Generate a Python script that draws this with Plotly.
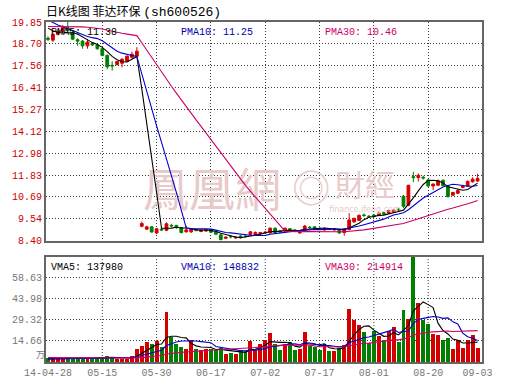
import plotly.graph_objects as go
import pandas as pd

# ---------------- data ----------------
TITLE_CN = "日K线图 菲达环保"
TITLE_CODE = "(sh600526)"
date_labels = ["14-04-28", "05-15", "05-30", "06-17", "07-02", "07-17", "08-01", "08-20", "09-03"]
date_label_index = [0, 11, 22, 33, 44, 55, 66, 77, 87]

opens = [19.00, 18.90, 19.20, 19.35, 19.55, 19.30, 18.92, 18.85, 18.60, 18.75,
         18.65, 18.45, 18.10, 17.58, 17.62, 17.69, 17.79, 18.00, 18.06, 9.15,
         9.00, 9.12, 8.80, 9.00, 8.94, 9.20, 9.20, 9.09, 8.86, 8.86,
         8.96, 8.88, 8.90, 8.98, 8.84, 8.70, 8.52, 8.62, 8.54, 8.64,
         8.64, 8.72, 8.72, 8.76, 8.80, 8.80, 9.05, 8.90, 8.90, 9.02,
         8.96, 8.80, 8.96, 9.10, 9.12, 9.04, 8.96, 9.02, 8.96, 8.98,
         8.82, 8.98, 9.38, 9.46, 9.74, 9.68, 9.74, 9.72, 9.86, 9.84,
         9.90, 10.04, 10.72, 10.25, 11.75, 11.70, 11.72, 11.58, 11.26, 11.30,
         11.56, 11.25, 10.78, 10.88, 11.18, 11.26, 11.48, 11.52]
highs = [19.10, 19.30, 19.45, 19.70, 19.85, 19.40, 19.00, 18.90, 18.95, 18.80,
         18.70, 18.50, 18.15, 17.79, 17.82, 17.95, 18.10, 18.30, 18.53, 9.40,
         9.18, 9.15, 9.05, 9.06, 9.36, 9.28, 9.22, 9.12, 9.18, 9.06,
         9.00, 9.00, 9.00, 9.02, 8.88, 8.76, 8.62, 8.68, 8.62, 8.70,
         8.70, 8.90, 8.88, 8.86, 8.90, 9.10, 9.10, 8.94, 9.08, 9.06,
         9.00, 8.95, 9.22, 9.16, 9.16, 9.08, 9.08, 9.06, 9.06, 9.02,
         9.06, 9.84, 9.62, 9.78, 9.82, 9.74, 9.78, 9.88, 9.92, 10.02,
         10.04, 10.10, 10.80, 11.32, 12.00, 11.92, 11.80, 11.62, 11.40, 11.60,
         11.60, 11.28, 10.96, 11.10, 11.32, 11.56, 11.72, 11.90]
lows = [18.85, 18.80, 19.15, 19.30, 19.30, 18.90, 18.60, 18.45, 18.45, 18.60,
        18.40, 18.05, 17.37, 17.30, 17.58, 17.48, 17.75, 17.95, 18.02, 9.10,
        8.96, 8.82, 8.74, 8.90, 8.90, 9.10, 9.02, 8.78, 8.82, 8.80,
        8.88, 8.84, 8.86, 8.80, 8.70, 8.40, 8.48, 8.52, 8.50, 8.50,
        8.56, 8.68, 8.68, 8.72, 8.76, 8.78, 8.78, 8.82, 8.86, 8.94,
        8.84, 8.76, 8.92, 9.02, 8.98, 8.96, 8.92, 8.96, 8.92, 8.76,
        8.66, 8.94, 9.34, 9.42, 9.64, 9.60, 9.60, 9.68, 9.74, 9.80,
        9.86, 9.92, 10.10, 10.20, 11.46, 11.50, 11.60, 11.20, 11.04, 11.25,
        11.24, 10.66, 10.74, 10.84, 11.14, 11.22, 11.44, 11.48]
closes = [18.95, 19.20, 19.35, 19.55, 19.40, 18.95, 18.85, 18.60, 18.80, 18.65,
          18.45, 18.10, 17.50, 17.55, 17.78, 17.90, 18.06, 18.16, 18.32, 9.30,
          9.12, 8.85, 9.02, 8.96, 9.28, 9.17, 9.08, 8.82, 8.96, 9.02,
          8.93, 8.96, 8.96, 8.84, 8.74, 8.45, 8.58, 8.60, 8.58, 8.56,
          8.62, 8.86, 8.82, 8.82, 8.84, 9.05, 8.82, 8.86, 9.05, 8.98,
          8.88, 8.92, 9.16, 9.08, 9.02, 9.00, 9.04, 9.00, 9.02, 8.80,
          9.02, 9.48, 9.55, 9.72, 9.72, 9.66, 9.66, 9.84, 9.80, 9.98,
          10.00, 10.00, 10.20, 11.30, 11.70, 11.82, 11.68, 11.26, 11.36, 11.53,
          11.28, 10.70, 10.92, 11.02, 11.26, 11.50, 11.62, 11.66]
# volume, in 万 (10k)
volumes = [2.8, 2.6, 2.3, 2.4, 3.4, 3.0, 2.0, 2.6, 2.4, 2.8,
           3.3, 3.3, 4.2, 2.6, 2.4, 2.3, 2.4, 4.0, 9.0, 11.3,
           13.7, 12.3, 14.6, 10.6, 34.7, 17.5, 12.3, 10.6, 9.0, 15.4,
           9.0, 8.3, 9.0, 9.0, 8.3, 9.7, 5.5, 6.4, 5.5, 8.3,
           7.5, 14.6, 8.3, 12.3, 15.4, 20.3, 12.3, 8.3, 12.3, 14.1,
           8.3, 9.0, 21.0, 11.3, 10.6, 8.3, 12.3, 7.5, 7.5, 9.7,
           11.8, 37.0, 29.0, 26.0, 21.0, 13.0, 22.0, 18.2, 15.4, 22.0,
           24.8, 14.2, 36.0, 30.2, 73.3, 41.0, 29.0, 26.7, 19.8, 19.0,
           15.4, 17.0, 9.0, 15.4, 9.5, 15.4, 19.0, 10.0]
# history before the first visible day (only feeds the moving averages)
prior_closes = [19.2, 19.1, 19.3, 19.4, 19.2, 19.0, 19.3, 19.5, 19.4, 19.2,
                19.3, 19.5, 19.4, 19.3, 19.2, 19.4, 19.5, 19.3, 20.6, 20.8,
                20.7, 20.5, 20.4, 20.2, 20.1, 19.9, 19.8, 19.7, 19.3]
prior_volumes = [3.6, 3.8, 3.4, 3.9, 3.5, 3.7, 3.6, 3.3, 3.8, 3.5,
                 3.6, 3.4, 3.7, 3.5, 3.6, 3.8, 3.4, 3.5, 3.6, 2.2,
                 2.0, 2.4, 1.9, 2.1, 2.3, 2.0, 2.2, 1.8, 2.1]

price_tick_labels = ["8.40", "9.54", "10.69", "11.83", "12.98", "14.12",
                     "15.27", "16.41", "17.56", "18.70", "19.85"]
volume_tick_labels = ["14.66", "29.32", "43.98", "58.63"]
volume_max = 73.3

price_legend = [("PMA5: 11.38", "#000000"), ("PMA10: 11.25", "#0000b0"), ("PMA30: 10.46", "#cc0066")]
volume_legend = [("VMA5: 137980", "#000000"), ("VMA10: 148832", "#0000b0"), ("VMA30: 214914", "#cc0066")]
volume_unit = "万"

# ---------------- derived ----------------
RED = "#d40000"
GREEN = "#008000"
n0 = len(prior_closes)
idx = list(range(len(closes)))
c_all = pd.Series(prior_closes + closes)
v_all = pd.Series(prior_volumes + volumes)
pma = {w: c_all.rolling(w).mean().iloc[n0:].tolist() for w in (5, 10, 30)}
vma = {w: v_all.rolling(w).mean().iloc[n0:].tolist() for w in (5, 10, 30)}
vol_colors = [RED if c >= o else GREEN for o, c in zip(opens, closes)]
ma_colors = {5: "#000000", 10: "#0000cc", 30: "#cc0066"}

# ---------------- layout geometry ----------------
W, H = 530, 391
L, R, T, B = 43, 48, 22, 29
PW, PH = W - L - R, H - T - B


def px(x):
    return (x - L) / PW


def py(y):
    return (H - B - y) / PH


MONO = "Liberation Mono"
CJK = "Noto Sans CJK SC"

fig = go.Figure()

# watermark (behind everything)
wm_color = "#e8caca"
fig.add_trace(go.Scatter(x=[33.2], y=[10.83], mode="text", text=["鳳凰網"],
                         textfont=dict(family="Noto Sans CJK TC", size=46, color=wm_color),
                         hoverinfo="skip", showlegend=False, xaxis="x", yaxis="y"))
fig.add_trace(go.Scatter(x=[53.3], y=[10.93], mode="text", text=["◎"],
                         textfont=dict(family="Noto Sans CJK TC", size=38, color=wm_color),
                         hoverinfo="skip", showlegend=False, xaxis="x", yaxis="y"))
fig.add_trace(go.Scatter(x=[64.2], y=[11.12], mode="text", text=["財經"],
                         textfont=dict(family="Noto Sans CJK TC", size=30, color=wm_color),
                         hoverinfo="skip", showlegend=False, xaxis="x", yaxis="y"))
fig.add_trace(go.Scatter(x=[64.2], y=[9.98], mode="text", text=["finance.ifeng.com"],
                         textfont=dict(family="DejaVu Sans", size=8, color=wm_color),
                         hoverinfo="skip", showlegend=False, xaxis="x", yaxis="y"))

fig.add_trace(go.Candlestick(
    x=idx, open=opens, high=highs, low=lows, close=closes,
    increasing=dict(line=dict(color=RED, width=1), fillcolor=RED),
    decreasing=dict(line=dict(color=GREEN, width=1), fillcolor=GREEN),
    whiskerwidth=0, showlegend=False, xaxis="x", yaxis="y"))

for w in (5, 10, 30):
    fig.add_trace(go.Scatter(x=idx, y=pma[w], mode="lines",
                             line=dict(color=ma_colors[w], width=1.1),
                             showlegend=False, hoverinfo="skip", xaxis="x", yaxis="y"))

fig.add_trace(go.Bar(x=idx, y=volumes, width=0.8, marker=dict(color=vol_colors, line=dict(width=0)),
                     showlegend=False, xaxis="x2", yaxis="y2"))
for w in (5, 10, 30):
    fig.add_trace(go.Scatter(x=idx, y=vma[w], mode="lines",
                             line=dict(color=ma_colors[w], width=1.1),
                             showlegend=False, hoverinfo="skip", xaxis="x2", yaxis="y2"))

grid = dict(showgrid=True, gridcolor="#3a3a3a", gridwidth=1, griddash="1px,2px")
frame = dict(showline=True, mirror=True, linecolor="#666666", linewidth=2, zeroline=False, ticks="")
xr = [-0.4, 87.9]
inner_idx = date_label_index[1:-1]

fig.update_layout(
    width=W, height=H, margin=dict(l=L, r=R, t=T, b=B),
    paper_bgcolor="white", plot_bgcolor="white", showlegend=False,
    boxgap=0.2, bargap=0,
    xaxis=dict(domain=[0, 1], range=xr, anchor="y", tickvals=inner_idx, showticklabels=False,
               rangeslider=dict(visible=False), **grid, **frame),
    yaxis=dict(domain=[0.357, 1.0], range=[8.40, 19.85], anchor="x",
               tickvals=[float(t) for t in price_tick_labels], ticktext=price_tick_labels,
               tickfont=dict(family=MONO, size=10, color="#cc0000"), **grid, **frame),
    xaxis2=dict(domain=[0, 1], range=xr, anchor="y2", tickvals=date_label_index, ticktext=date_labels,
                tickfont=dict(family=MONO, size=10, color="#777777"), showgrid=False, **frame),
    yaxis2=dict(domain=[0, 0.309], range=[0, volume_max], anchor="x2",
                tickvals=[float(t) for t in volume_tick_labels], ticktext=volume_tick_labels,
                tickfont=dict(family=MONO, size=10, color="#777777"), **grid, **frame),
)

# vertical dotted grid in the volume panel
for i in inner_idx:
    fig.add_shape(type="line", xref="x2", yref="y2 domain", x0=i, x1=i, y0=0, y1=1,
                  line=dict(color="#3a3a3a", width=1, dash="1px,2px"), layer="below")

ann = []
title_html = (f"<span style='font-family:{CJK}'>{TITLE_CN}&nbsp;</span>"
              f"<span style='font-family:{MONO};font-size:13px'>{TITLE_CODE}</span>")
ann.append(dict(text=title_html, x=px(42), y=1.0 + 21.0 / PH, xref="paper", yref="paper", xanchor="left",
                yanchor="top", borderpad=0, showarrow=False, font=dict(family=CJK, size=12, color="#000000")))
for (t, c), x0 in zip(price_legend, (46, 177, 322)):
    ann.append(dict(text=t, x=px(x0), y=py(32), xref="paper", yref="paper", xanchor="left",
                    yanchor="middle", showarrow=False, font=dict(family=MONO, size=10, color=c)))
for (t, c), x0 in zip(volume_legend, (46, 177, 322)):
    ann.append(dict(text=t, x=px(x0), y=py(267), xref="paper", yref="paper", xanchor="left",
                    yanchor="middle", showarrow=False, font=dict(family=MONO, size=10, color=c)))
ann.append(dict(text=volume_unit, x=px(37), y=py(354), xref="paper", yref="paper", xanchor="center",
                yanchor="middle", showarrow=False, font=dict(family=CJK, size=9, color="#777777")))
fig.update_layout(annotations=ann)

fig.write_html("out.html", config=dict(displayModeBar=False))
